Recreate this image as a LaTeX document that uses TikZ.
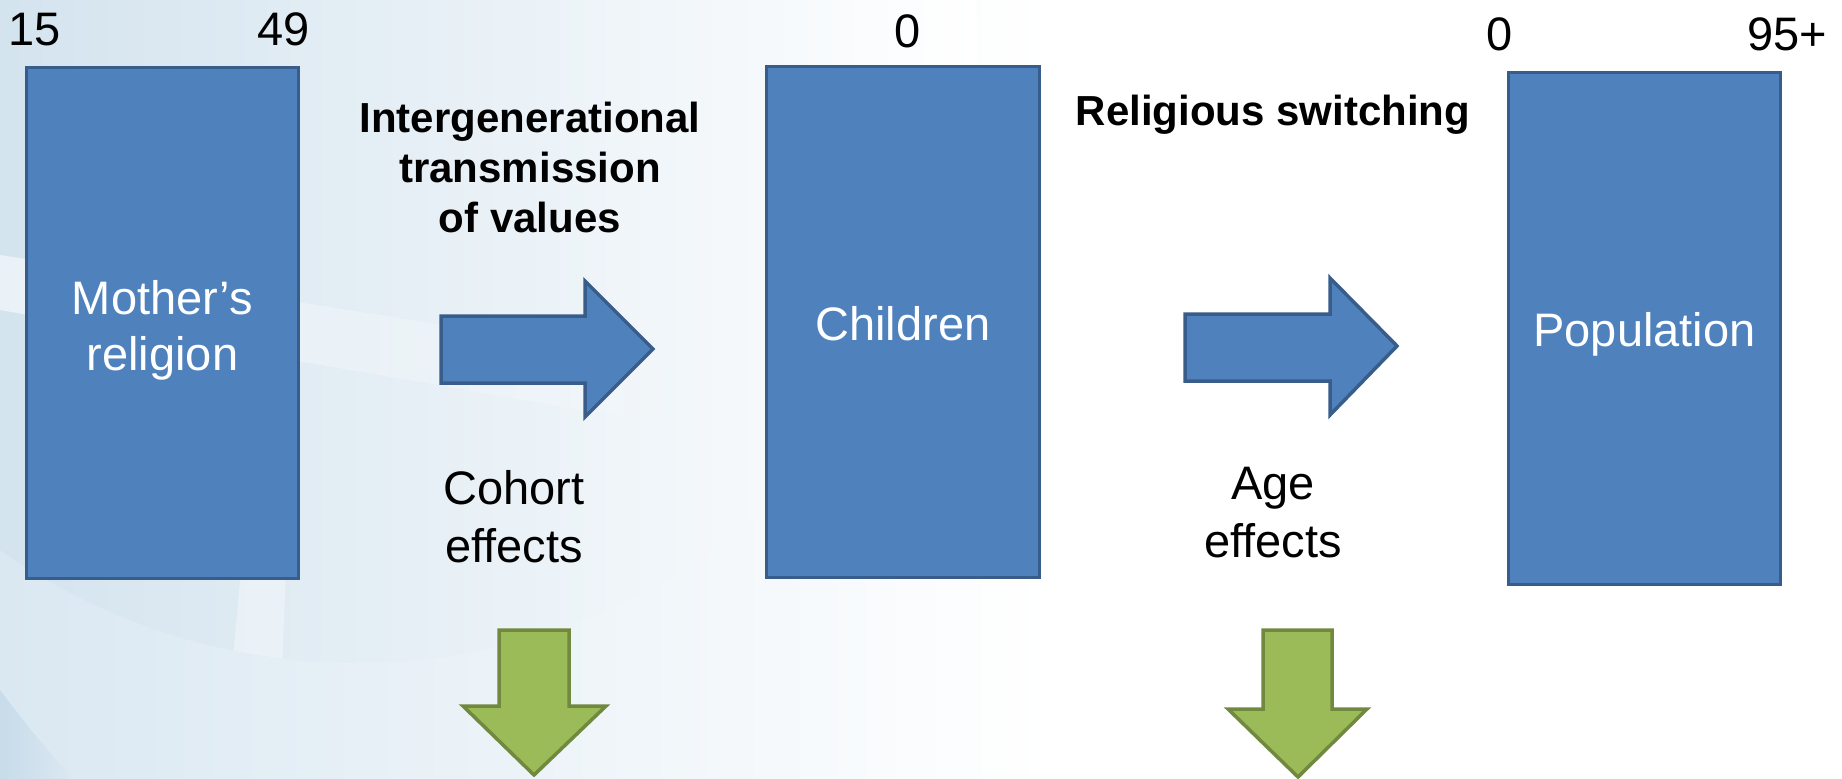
\documentclass[tikz,border=0pt]{standalone}
\usepackage{fontspec}
\setmainfont{Liberation Sans}
\usetikzlibrary{fadings}
\definecolor{boxfill}{HTML}{4F81BD}
\definecolor{boxline}{HTML}{385D8A}
\definecolor{grfill}{HTML}{9BBB59}
\definecolor{grline}{HTML}{71893F}
\definecolor{bgA}{HTML}{DAE8F2}
\definecolor{bgB}{HTML}{C8DCEA}
\tikzfading[name=fadeoutright, left color=transparent!0, right color=transparent!100]
\begin{document}
\begin{tikzpicture}[x=1pt,y=-1pt,
  box/.style={draw=boxline, fill=boxfill, line width=3pt, text=white, align=center,
    font=\fontsize{47}{56}\selectfont, inner sep=0pt, text depth=0pt},
  num/.style={anchor=base, inner sep=0pt, font=\fontsize{47}{56}\selectfont},
  lbl/.style={anchor=base, inner sep=0pt, align=center, font=\fontsize{47}{58}\selectfont},
  hd/.style={anchor=base, inner sep=0pt, align=center, font=\fontsize{42}{50}\selectfont\bfseries},
  barrow/.style={draw=boxline, fill=boxfill, line width=3.5pt, line join=miter},
  garrow/.style={draw=grline, fill=grfill, line width=3.5pt, line join=miter}]
\useasboundingbox (0,0) rectangle (1842,779);
% background
\begin{scope}
  \clip (0,0) rectangle (1842,779);
  \fill[white] (0,0) rectangle (1842,779);
  \shade[left color=bgA, right color=white] (0,0) rectangle (1050,779);
  \shade[left color=bgB, right color=white] (357,43) circle[radius=620];
  \begin{scope}
    \clip (357,43) circle[radius=620];
    \fill[white, opacity=0.35] (250,470) -- (290,470) -- (282,670) -- (232,670) -- cycle;
  \end{scope}
  \fill[bgB, path fading=fadeoutright] (0,690) .. controls (30,730) and (55,760) .. (75,779) -- (0,779) -- cycle;
  \fill[white, opacity=0.55, path fading=fadeoutright] (0,255) -- (760,375) -- (760,440) -- (0,310) -- cycle;
\end{scope}
% age labels
\node[num] (m15) at (35,45) {15};
\node[num] (m49) at (284,45) {49};
\node[num] (c0) at (908,47) {0};
\node[num] (p0) at (1500,50) {0};
\node[num] (p95) at (1787,50) {95+};
% boxes
\node[box, minimum width=272pt, minimum height=511pt, text height=94pt] (mother) at (162.5,323) {Mother’s\\religion};
\node[box, minimum width=273pt, minimum height=511pt, text height=36pt] (children) at (903,322) {Children};
\node[box, minimum width=272pt, minimum height=512pt, text height=35pt] (population) at (1644.5,328.5) {Population};
% headings
\node[hd] (igt) at (530,232) {Intergenerational\\transmission\\of values};
\node[hd] (rs) at (1273,125) {Religious switching};
% effect labels
\node[lbl] (cohort) at (514,562) {Cohort\\effects};
\node[lbl] (age) at (1273,557) {Age\\effects};
% block arrows
\draw[barrow] (441,316) -- (585,316) -- (585,281) -- (653,349) -- (585,417) -- (585,383) -- (441,383) -- cycle;
\draw[barrow] (1185,314) -- (1330,314) -- (1330,278) -- (1397,346) -- (1330,415) -- (1330,381) -- (1185,381) -- cycle;
\draw[garrow] (499,630) -- (569,630) -- (569,706) -- (606,706) -- (534,775) -- (463,706) -- (499,706) -- cycle;
\draw[garrow] (1263,630) -- (1332,630) -- (1332,709) -- (1367,709) -- (1298,777) -- (1228,709) -- (1263,709) -- cycle;
\end{tikzpicture}
\end{document}
